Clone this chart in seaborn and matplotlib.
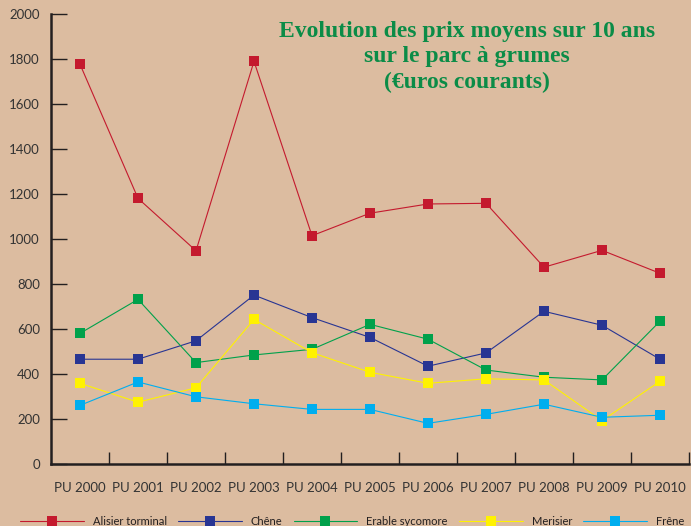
import pandas as pd
import matplotlib.pyplot as plt
import seaborn as sns

annees = ["PU 2000", "PU 2001", "PU 2002", "PU 2003", "PU 2004", "PU 2005",
          "PU 2006", "PU 2007", "PU 2008", "PU 2009", "PU 2010"]

alisier = [1778, 1182, 949, 1791, 1016, 1116, 1157, 1160, 876, 951, 849]
chene = [467, 467, 549, 752, 652, 564, 436, 495, 680, 618, 467]
erable = [582, 733, 452, 486, 511, 622, 556, 419, 387, 375, 636]
merisier = [360, 276, 340, 644, 496, 409, 360, 380, 375, 194, 369]
frene = [262, 366, 300, 269, 244, 244, 182, 222, 267, 209, 218]

essences = ["Alisier torminal", "Chêne", "Erable sycomore", "Merisier", "Frêne"]
couleurs = ["#c41a2e", "#283593", "#00a14b", "#fff200", "#00aeef"]

rows = []
for nom, vals in zip(essences, [alisier, chene, erable, merisier, frene]):
    for i, v in enumerate(vals):
        rows.append({"pos": i, "annee": annees[i], "essence": nom, "prix": v})
df = pd.DataFrame(rows)

bg = "#dcbca0"
sns.set_style("ticks")
plt.rcParams['font.family'] = ['Lato', 'DejaVu Sans']

fig = plt.figure(figsize=(6.91, 5.26), dpi=100, facecolor=bg)
ax = fig.add_axes([51 / 691, (526 - 464.3) / 526, 638 / 691, 450 / 526])
ax.set_facecolor(bg)

sns.lineplot(data=df, x="pos", y="prix", hue="essence", hue_order=essences,
             palette=couleurs, marker="s", markersize=7, markeredgewidth=0,
             linewidth=0.8, ax=ax, legend=True)

ax.set_xlim(-0.5, 10.5)
ax.set_ylim(0, 2000)
ax.set_yticks(range(0, 2001, 200))
ax.set_xticks(range(len(annees)))
ax.set_xticklabels(annees)
ax.set_xticks([i + 0.5 for i in range(len(annees))], minor=True)
ax.tick_params(axis="x", which="major", length=0, pad=13, labelsize=9.5, colors="#333333")
ax.tick_params(axis="x", which="minor", direction="in", length=8.5, width=1, color="#231f20")
ax.tick_params(axis="y", direction="in", length=11.5, width=1, pad=8, labelsize=9.5,
               color="#231f20", labelcolor="#333333")
ax.set_xlabel("")
ax.set_ylabel("")
for s in ["top", "right"]:
    ax.spines[s].set_visible(False)
for s in ["left", "bottom"]:
    ax.spines[s].set_linewidth(1.8)
    ax.spines[s].set_color("#231f20")

fig.text(467 / 691, 1 - 57 / 526,
         "Evolution des prix moyens sur 10 ans\nsur le parc à grumes\n(€uros courants)",
         ha="center", va="center", family="Liberation Serif", fontweight="bold",
         fontsize=17, color="#0b8c47", linespacing=1.25)

handles, labels = ax.get_legend_handles_labels()
ax.get_legend().remove()
fig.legend(handles, labels, loc="center left", bbox_to_anchor=(20 / 691, 1 - 521.7 / 526),
           ncol=5, frameon=False, fontsize=8, handlelength=5.75, columnspacing=1.0,
           handletextpad=0.8, borderpad=0, borderaxespad=0, labelcolor="#231f20")

fig.savefig("out.png", dpi=100, facecolor=bg)
